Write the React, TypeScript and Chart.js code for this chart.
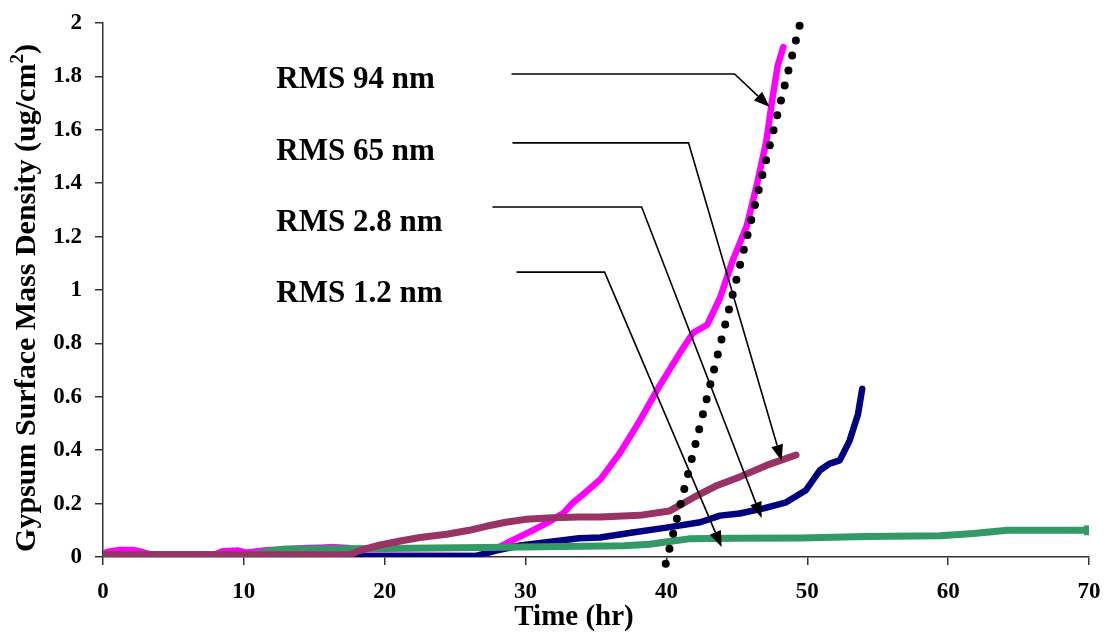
import { useEffect, useRef } from 'react';
import { Chart, registerables } from 'chart.js';

Chart.register(...registerables);

// Axis ticks
const timeTicks = [0, 10, 20, 30, 40, 50, 60, 70];
const timeTickLabels = ['0', '10', '20', '30', '40', '50', '60', '70'];
const densityTicks = [0, 0.2, 0.4, 0.6, 0.8, 1, 1.2, 1.4, 1.6, 1.8, 2];
const densityTickLabels = ['0', '0.2', '0.4', '0.6', '0.8', '1', '1.2', '1.4', '1.6', '1.8', '2'];

// RMS 94 nm (magenta)
const rms94Time = [0, 0.4, 1.2, 2.2, 2.8, 3.4, 8, 8.5, 9.6, 10.2, 11, 11.8, 12.6, 13.4, 14.4, 15.4, 16.4, 17.4, 18.2, 26.8, 27.5, 28.6, 29.6, 30.5, 31.5, 32.7, 33.3, 34.2, 35.3, 36.7, 38.1, 39.5, 40.9, 41.9, 42.9, 43.8, 44.7, 45.7, 46.4, 47.1, 47.5, 47.9, 48.3];
const rms94Density = [0.012, 0.02, 0.026, 0.026, 0.018, 0.01, 0.01, 0.022, 0.024, 0.016, 0.022, 0.026, 0.024, 0.03, 0.034, 0.035, 0.037, 0.034, 0.006, 0.004, 0.02, 0.05, 0.076, 0.1, 0.127, 0.165, 0.2, 0.24, 0.29, 0.39, 0.51, 0.64, 0.76, 0.84, 0.87, 0.97, 1.11, 1.24, 1.39, 1.56, 1.71, 1.84, 1.91];

// RMS 94 nm linear trend (dotted)
const trendTime = [39.95, 49.5];
const trendDensity = [-0.025, 2.0];

// RMS 65 nm (maroon)
const rms65Time = [0, 17.5, 18.2, 19.6, 21.1, 22.5, 24.4, 26, 27.2, 28.6, 30, 31.9, 33.8, 35.3, 38.1, 40.2, 41.9, 43.6, 45.2, 47.1, 49.2];
const rms65Density = [0.008, 0.008, 0.024, 0.044, 0.06, 0.073, 0.085, 0.1, 0.115, 0.13, 0.141, 0.147, 0.15, 0.15, 0.156, 0.172, 0.222, 0.268, 0.3, 0.343, 0.382];

// RMS 2.8 nm (navy)
const rms28Time = [0, 26.5, 27.9, 29.6, 31.5, 33.8, 35.3, 37.6, 40, 42.4, 43.8, 45.2, 46.9, 48.5, 49.9, 50.9, 51.6, 52.3, 53, 53.6, 53.9];
const rms28Density = [0.004, 0.004, 0.024, 0.043, 0.055, 0.07, 0.073, 0.092, 0.11, 0.13, 0.155, 0.163, 0.182, 0.205, 0.25, 0.325, 0.35, 0.362, 0.435, 0.535, 0.63];

// RMS 1.2 nm (green)
const rms12Time = [0, 10.5, 12, 13, 20, 27, 34, 37, 38.8, 40.2, 41.6, 44.7, 49.5, 54.2, 59.4, 61.8, 64.2, 70];
const rms12Density = [0.008, 0.008, 0.025, 0.03, 0.032, 0.036, 0.04, 0.042, 0.048, 0.058, 0.068, 0.07, 0.071, 0.077, 0.08, 0.088, 0.1, 0.1];

// Callout labels with leader lines (data coordinates)
const calloutNames = ['RMS 94 nm', 'RMS 65 nm', 'RMS 2.8 nm', 'RMS 1.2 nm'];
const calloutTextTime = 12.3;
const calloutTextDensity = [1.757, 1.487, 1.221, 0.955];
const leaderStartTime = [29.0, 29.07, 27.65, 29.36];
const leaderLevel = [1.809, 1.551, 1.311, 1.067];
const leaderBendTime = [44.84, 41.57, 38.24, 35.61];
const arrowTipTime = [47.33, 48.18, 46.76, 43.92];
const arrowTipDensity = [1.685, 0.36, 0.146, 0.037];

const SERIF = '"Liberation Serif", "Times New Roman", serif';

const toPoints = (xs: number[], ys: number[]) => xs.map((x, i) => ({ x, y: ys[i] }));

const calloutPlugin = {
  id: 'callouts',
  afterDatasetsDraw(chart: any) {
    const { ctx, scales } = chart;
    const xs = scales.x;
    const ys = scales.y;
    ctx.save();
    ctx.fillStyle = '#000';
    ctx.strokeStyle = '#000';
    ctx.lineWidth = 1.6;
    ctx.font = `bold 31px ${SERIF}`;
    ctx.textAlign = 'left';
    ctx.textBaseline = 'alphabetic';
    calloutNames.forEach((name, i) => {
      ctx.fillText(name, xs.getPixelForValue(calloutTextTime), ys.getPixelForValue(calloutTextDensity[i]));
      const x0 = xs.getPixelForValue(leaderStartTime[i]);
      const y0 = ys.getPixelForValue(leaderLevel[i]);
      const x1 = xs.getPixelForValue(leaderBendTime[i]);
      const x2 = xs.getPixelForValue(arrowTipTime[i]);
      const y2 = ys.getPixelForValue(arrowTipDensity[i]);
      const ang = Math.atan2(y2 - y0, x2 - x1);
      const len = 16;
      const half = 6;
      const bx = x2 - len * Math.cos(ang);
      const by = y2 - len * Math.sin(ang);
      ctx.beginPath();
      ctx.moveTo(x0, y0);
      ctx.lineTo(x1, y0);
      ctx.lineTo(bx, by);
      ctx.stroke();
      ctx.beginPath();
      ctx.moveTo(x2, y2);
      ctx.lineTo(bx + half * Math.sin(ang), by - half * Math.cos(ang));
      ctx.lineTo(bx - half * Math.sin(ang), by + half * Math.cos(ang));
      ctx.closePath();
      ctx.fill();
    });
    ctx.restore();
  },
  afterDraw(chart: any) {
    const { ctx, chartArea } = chart;
    ctx.save();
    ctx.fillStyle = '#000';
    // x-axis title
    ctx.font = `bold 29px ${SERIF}`;
    ctx.textAlign = 'center';
    ctx.textBaseline = 'alphabetic';
    ctx.fillText('Time (hr)', (chartArea.left + chartArea.right) / 2 - 22, 625);
    // y-axis title with superscript
    const main = 'Gypsum Surface Mass Density (ug/cm';
    const sup = '2';
    const tail = ')';
    const bigFont = `bold 30px ${SERIF}`;
    const supFont = `bold 19px ${SERIF}`;
    ctx.font = bigFont;
    const wMain = ctx.measureText(main).width;
    const wTail = ctx.measureText(tail).width;
    ctx.font = supFont;
    const wSup = ctx.measureText(sup).width;
    const total = wMain + wSup + wTail;
    ctx.translate(35, (chartArea.top + chartArea.bottom) / 2 + 8);
    ctx.rotate(-Math.PI / 2);
    ctx.textAlign = 'left';
    let pos = -total / 2;
    ctx.font = bigFont;
    ctx.fillText(main, pos, 0);
    pos += wMain;
    ctx.font = supFont;
    ctx.fillText(sup, pos, -12);
    pos += wSup;
    ctx.font = bigFont;
    ctx.fillText(tail, pos, 0);
    ctx.restore();
  },
};

export default function App() {
  const canvasRef = useRef<HTMLCanvasElement | null>(null);

  useEffect(() => {
    if (!canvasRef.current) return;
    const tickFont = { family: SERIF, size: 23, weight: 'bold' as const };
    const chart = new Chart(canvasRef.current, {
      type: 'line',
      data: {
        datasets: [
          {
            label: 'RMS 94 nm trend',
            data: toPoints(trendTime, trendDensity),
            borderColor: '#000',
            borderWidth: 8,
            borderDash: [0, 15.4],
            borderCapStyle: 'round',
            pointRadius: 0,
            clip: false,
            order: 0,
          },
          {
            label: 'RMS 65 nm',
            data: toPoints(rms65Time, rms65Density),
            borderColor: '#993366',
            borderWidth: 7,
            borderCapStyle: 'round',
            borderJoinStyle: 'round',
            pointRadius: 0,
            order: 1,
          },
          {
            label: 'RMS 1.2 nm',
            data: toPoints(rms12Time, rms12Density),
            borderColor: '#339966',
            backgroundColor: '#339966',
            borderWidth: 7,
            borderJoinStyle: 'round',
            pointStyle: 'rect',
            pointRadius: (c: any) => (c.dataIndex === rms12Time.length - 1 ? 7 : 0),
            pointBorderWidth: 0,
            pointBackgroundColor: '#339966',
            order: 2,
          },
          {
            label: 'RMS 2.8 nm',
            data: toPoints(rms28Time, rms28Density),
            borderColor: '#000080',
            borderWidth: 6.5,
            borderCapStyle: 'round',
            borderJoinStyle: 'round',
            pointRadius: 0,
            order: 3,
          },
          {
            label: 'RMS 94 nm',
            data: toPoints(rms94Time, rms94Density),
            borderColor: '#FF00FF',
            borderWidth: 6.5,
            borderCapStyle: 'round',
            borderJoinStyle: 'round',
            pointRadius: 0,
            order: 4,
          },
        ],
      },
      options: {
        responsive: false,
        animation: false,
        events: [],
        layout: { padding: { left: 0, top: 23, right: 17, bottom: 0 } },
        plugins: { legend: { display: false }, tooltip: { enabled: false } },
        elements: { line: { tension: 0 } },
        scales: {
          x: {
            type: 'linear',
            min: 0,
            max: 70,
            afterBuildTicks: (s: any) => {
              s.ticks = timeTicks.map((v) => ({ value: v }));
            },
            afterFit: (s: any) => {
              s.height = 75;
              s.paddingLeft = 0;
              s.paddingRight = 0;
            },
            grid: { drawOnChartArea: false, drawTicks: true, tickLength: 8, color: '#333', lineWidth: 1.5 },
            border: { display: true, color: '#333', width: 1.5 },
            ticks: {
              font: tickFont,
              color: '#000',
              padding: 13,
              maxRotation: 0,
              autoSkip: false,
              callback: (_v: any, i: number) => timeTickLabels[i],
            },
          },
          y: {
            type: 'linear',
            min: 0,
            max: 2,
            afterBuildTicks: (s: any) => {
              s.ticks = densityTicks.map((v) => ({ value: v }));
            },
            afterFit: (s: any) => {
              s.width = 103;
              s.paddingTop = 0;
              s.paddingBottom = 0;
            },
            grid: { drawOnChartArea: false, drawTicks: true, tickLength: 8, color: '#333', lineWidth: 1.5 },
            border: { display: true, color: '#333', width: 1.5 },
            ticks: {
              font: tickFont,
              color: '#000',
              padding: 13,
              autoSkip: false,
              callback: (_v: any, i: number) => densityTickLabels[i],
            },
          },
        },
      },
      plugins: [calloutPlugin],
    } as any);
    return () => chart.destroy();
  }, []);

  return (
    <div style={{ position: 'absolute', left: 0, top: 0, width: 1106, height: 632, background: '#fff' }}>
      <canvas ref={canvasRef} width={1106} height={632} />
    </div>
  );
}
